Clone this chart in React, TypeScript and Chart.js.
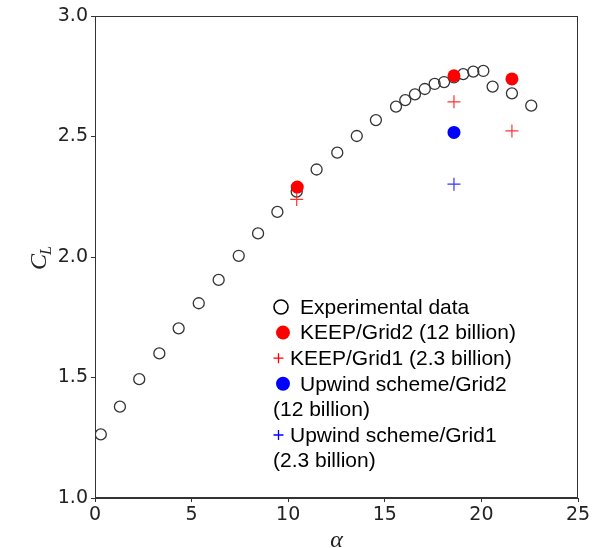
import React, { useEffect, useRef } from "react";
import { Chart, registerables } from "chart.js";

Chart.register(...registerables);

const expAlpha = [0.30, 1.29, 2.29, 3.33, 4.33, 5.37, 6.40, 7.44, 8.44, 9.44, 10.44, 11.47, 12.54, 13.55, 14.54, 15.58, 16.06, 16.56, 17.07, 17.58, 18.07, 18.58, 19.06, 19.58, 20.10, 20.58, 21.58, 22.58];
const expCL = [1.264, 1.379, 1.493, 1.600, 1.704, 1.808, 1.905, 2.005, 2.098, 2.187, 2.271, 2.363, 2.433, 2.502, 2.568, 2.624, 2.651, 2.675, 2.697, 2.718, 2.726, 2.745, 2.759, 2.769, 2.772, 2.707, 2.679, 2.628];

const keepGrid2Alpha = [10.47, 18.58, 21.58];
const keepGrid2CL = [2.29, 2.752, 2.739];

const keepGrid1Alpha = [10.44, 18.58, 21.58];
const keepGrid1CL = [2.239, 2.644, 2.523];

const upwindGrid2Alpha = [18.58];
const upwindGrid2CL = [2.517];

const upwindGrid1Alpha = [18.58];
const upwindGrid1CL = [2.302];

const xTicks = [0, 5, 10, 15, 20, 25];
const yTicks = [1.0, 1.5, 2.0, 2.5, 3.0];

const legendLines = [
  { marker: "open", text: "Experimental data" },
  { marker: "redDot", text: "KEEP/Grid2 (12 billion)" },
  { marker: "redPlus", text: "KEEP/Grid1 (2.3 billion)" },
  { marker: "blueDot", text: "Upwind scheme/Grid2" },
  { marker: "none", text: "(12 billion)" },
  { marker: "bluePlus", text: "Upwind scheme/Grid1" },
  { marker: "none", text: "(2.3 billion)" },
];

const toXY = (xs: number[], ys: number[]) => xs.map((x, i) => ({ x, y: ys[i] }));

const decorPlugin = {
  id: "decor",
  afterDraw(chart: any) {
    const { ctx, chartArea } = chart;
    const { left, right, top, bottom } = chartArea;
    ctx.save();
    // frame
    ctx.strokeStyle = "#333";
    ctx.lineWidth = 1;
    ctx.strokeRect(Math.round(left) + 0.5, Math.round(top) + 0.5, Math.round(right - left) - 1, Math.round(bottom - top) - 1);

    // x title
    ctx.fillStyle = "#222";
    ctx.font = "italic 24px 'Liberation Serif'";
    ctx.textAlign = "center";
    ctx.textBaseline = "alphabetic";
    ctx.fillText("\u03b1", (left + right) / 2, 547);

    // y title C_L
    ctx.save();
    ctx.translate(46, 270);
    ctx.rotate(-Math.PI / 2);
    ctx.textAlign = "left";
    ctx.font = "italic 24px 'Liberation Serif'";
    ctx.fillText("C", 0, 0);
    const cw = ctx.measureText("C").width;
    ctx.font = "italic 16px 'Liberation Serif'";
    ctx.fillText("L", cw - 1, 5);
    ctx.restore();

    // legend
    const lineH = 25.6;
    const y0 = 307;
    ctx.font = "21px 'Liberation Sans', Arial, sans-serif";
    ctx.textAlign = "left";
    ctx.textBaseline = "middle";
    legendLines.forEach((item, i) => {
      const y = y0 + i * lineH;
      let tx = 300;
      const mx = 282;
      if (item.marker === "open") {
        ctx.beginPath();
        ctx.arc(mx - 1, y, 7, 0, Math.PI * 2);
        ctx.strokeStyle = "#000";
        ctx.lineWidth = 1.6;
        ctx.stroke();
      } else if (item.marker === "redDot" || item.marker === "blueDot") {
        ctx.beginPath();
        ctx.arc(mx + 1, y, 7, 0, Math.PI * 2);
        ctx.fillStyle = item.marker === "redDot" ? "#ff0000" : "#0000ff";
        ctx.fill();
      } else if (item.marker === "redPlus" || item.marker === "bluePlus") {
        const px = 278.5;
        ctx.beginPath();
        ctx.moveTo(px - 5, y);
        ctx.lineTo(px + 5, y);
        ctx.moveTo(px, y - 5);
        ctx.lineTo(px, y + 5);
        ctx.strokeStyle = item.marker === "redPlus" ? "#ff0000" : "#0000ff";
        ctx.lineWidth = 1.3;
        ctx.stroke();
        tx = 290;
      } else {
        tx = 273;
      }
      ctx.fillStyle = "#000";
      ctx.fillText(item.text, tx, y + 1);
    });
    ctx.restore();
  },
};

export default function App() {
  const canvasRef = useRef<HTMLCanvasElement | null>(null);

  useEffect(() => {
    const canvas = canvasRef.current;
    if (!canvas) return;
    const chart = new Chart(canvas, {
      type: "scatter",
      data: {
        datasets: [
          {
            label: "Experimental data",
            data: toXY(expAlpha, expCL),
            pointStyle: "circle",
            pointRadius: 5.5,
            pointBackgroundColor: "rgba(0,0,0,0)",
            pointBorderColor: "#333",
            pointBorderWidth: 1.3,
            order: 5,
          },
          {
            label: "KEEP/Grid2 (12 billion)",
            data: toXY(keepGrid2Alpha, keepGrid2CL),
            pointStyle: "circle",
            pointRadius: 6.5,
            pointBackgroundColor: "#ff0000",
            pointBorderColor: "#ff0000",
            pointBorderWidth: 0,
            order: 4,
          },
          {
            label: "KEEP/Grid1 (2.3 billion)",
            data: toXY(keepGrid1Alpha, keepGrid1CL),
            pointStyle: "cross",
            pointRadius: 6.5,
            pointBorderColor: "rgba(255,30,30,0.9)",
            pointBorderWidth: 1.2,
            order: 3,
          },
          {
            label: "Upwind scheme/Grid2 (12 billion)",
            data: toXY(upwindGrid2Alpha, upwindGrid2CL),
            pointStyle: "circle",
            pointRadius: 6.5,
            pointBackgroundColor: "#0000ff",
            pointBorderColor: "#0000ff",
            pointBorderWidth: 0,
            order: 2,
          },
          {
            label: "Upwind scheme/Grid1 (2.3 billion)",
            data: toXY(upwindGrid1Alpha, upwindGrid1CL),
            pointStyle: "cross",
            pointRadius: 6.5,
            pointBorderColor: "rgba(30,30,255,0.9)",
            pointBorderWidth: 1.2,
            order: 1,
          },
        ],
      },
      options: {
        animation: false,
        responsive: false,
        devicePixelRatio: 1,
        layout: { padding: { top: 16, right: 33, left: 0, bottom: 0 } },
        plugins: { legend: { display: false }, tooltip: { enabled: false } },
        scales: {
          x: {
            type: "linear",
            min: 0,
            max: 25,
            afterBuildTicks: (s: any) => {
              s.ticks = xTicks.map((v) => ({ value: v }));
            },
            afterFit: (s: any) => {
              s.height = 50;
            },
            ticks: {
              color: "#222",
              font: { family: "'DejaVu Sans'", size: 19 },
              padding: 2,
              maxRotation: 0,
              callback: (v: any) => String(v),
            },
            grid: { drawOnChartArea: false, tickLength: 4, color: "#333" },
            border: { display: true, color: "#333", width: 1 },
          },
          y: {
            type: "linear",
            min: 1,
            max: 3,
            afterBuildTicks: (s: any) => {
              s.ticks = yTicks.map((v) => ({ value: v }));
            },
            afterFit: (s: any) => {
              s.width = 95;
            },
            ticks: {
              color: "#222",
              font: { family: "'DejaVu Sans'", size: 19 },
              padding: 3,
              callback: (v: any) => Number(v).toFixed(1),
            },
            grid: { drawOnChartArea: false, tickLength: 4, color: "#333" },
            border: { display: true, color: "#333", width: 1 },
          },
        },
      },
      plugins: [decorPlugin],
    });
    return () => chart.destroy();
  }, []);

  return (
    <div style={{ position: "absolute", left: 0, top: 0, width: 611, height: 548, background: "#fff" }}>
      <canvas ref={canvasRef} width={611} height={548} style={{ width: 611, height: 548, display: "block" }} />
    </div>
  );
}
